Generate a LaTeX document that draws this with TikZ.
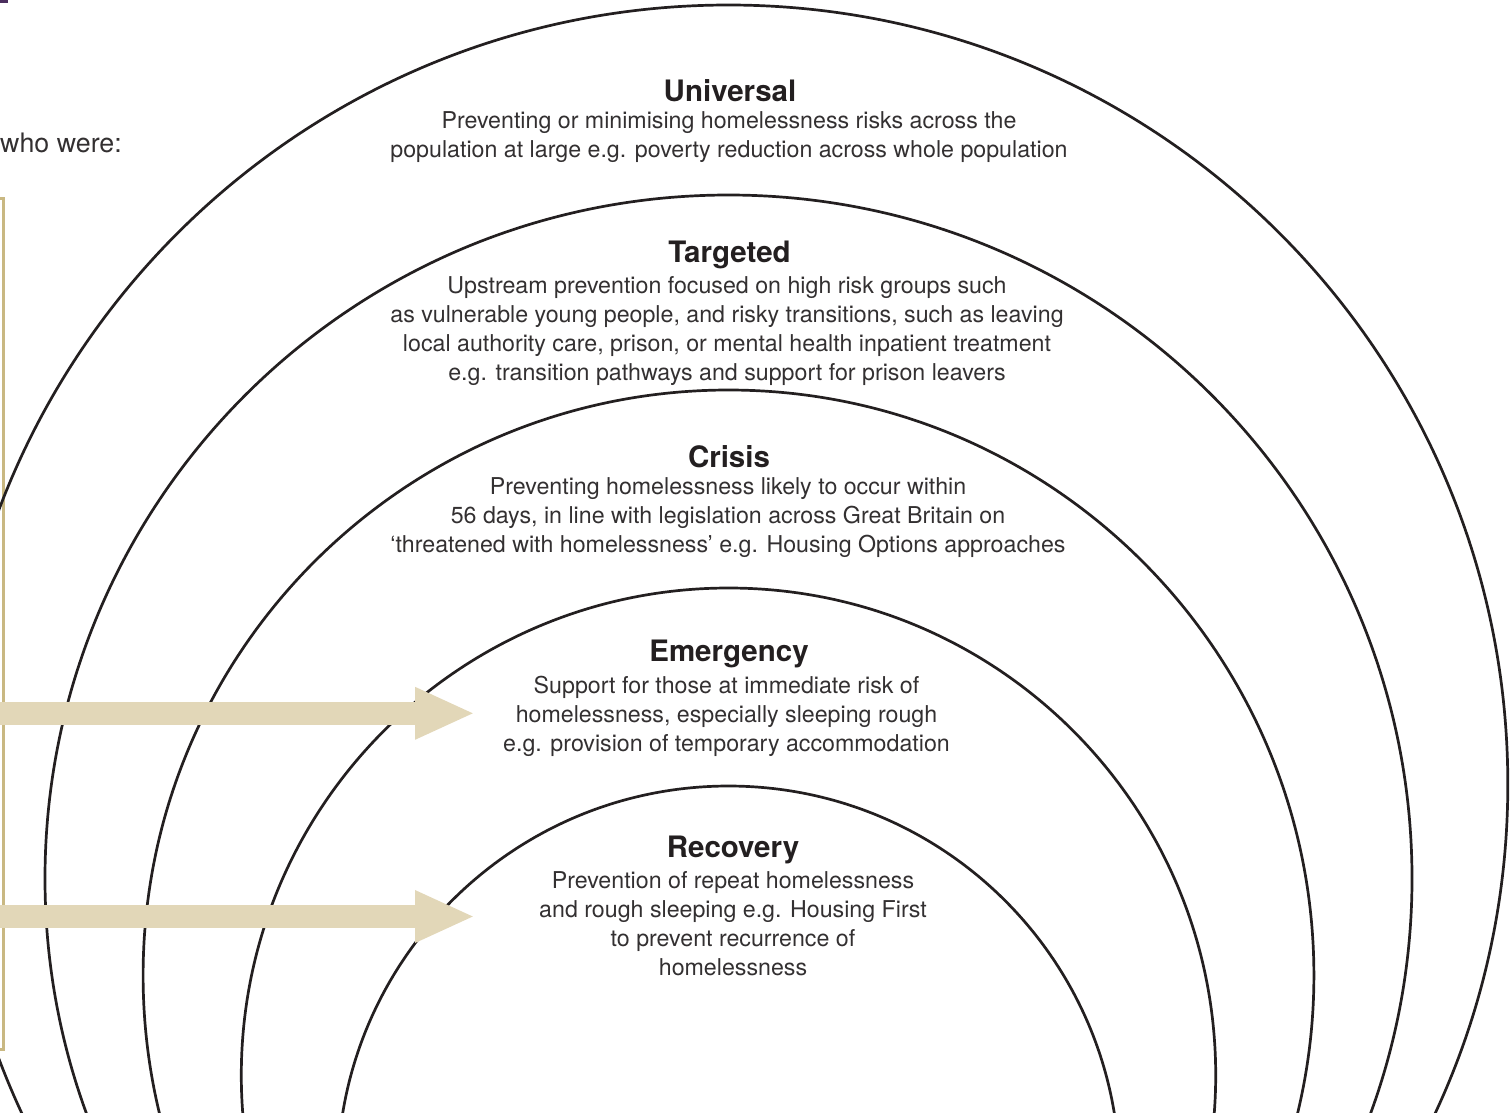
\documentclass[tikz,border=0pt]{standalone}
\usepackage{fontspec}
\setmainfont{TeX Gyre Heros}
\usetikzlibrary{arrows.meta}
\definecolor{ink}{HTML}{231F20}
\definecolor{bodyink}{HTML}{333031}
\definecolor{tanfill}{HTML}{E2D7B8}
\definecolor{boxtan}{HTML}{C9B882}
\definecolor{plum}{HTML}{4B2E5E}
\tikzset{
  ring/.style={draw=ink, line width=2.7pt},
  headtxt/.style={font=\fontsize{29.5}{34}\selectfont\bfseries, text=ink, inner sep=0pt},
  bodytxt/.style={font=\fontsize{23.2}{29}\selectfont, text=bodyink, align=center, inner sep=0pt},
  bigarrow/.style={draw=tanfill, line width=23pt, -{Triangle[length=60pt,width=48pt]}},
  framebox/.style={draw=boxtan, line width=3pt},
}
\begin{document}
\begin{tikzpicture}[x=1pt,y=-1pt]
\useasboundingbox (0,0) rectangle (1511,1112);
\begin{scope}
\clip (0,0) rectangle (1511,1112);
% fragment at top-left corner
\fill[plum] (0,0) rectangle (8,2.5);
% frame on the left
\draw[framebox] (-20,198.3) rectangle (3.3,1049);
% concentric rings
\draw[ring] (728.5,784.3) circle[radius=779.3pt];
\draw[ring] (728.5,878.5) circle[radius=683.5pt];
\draw[ring] (728.5,975.4) circle[radius=585.4pt];
\draw[ring] (728.5,1075.2) circle[radius=487.2pt];
\draw[ring] (728.5,1177) circle[radius=391pt];
% arrows
\coordinate (a1s) at (-5,713.3);
\coordinate (a1e) at (475,713.3);
\coordinate (a2s) at (-5,916.5);
\coordinate (a2e) at (475,916.5);
\draw[bigarrow] (a1s) -- (a1e);
\draw[bigarrow] (a2s) -- (a2e);
\end{scope}
% left text
\node[font=\fontsize{26.8}{30}\selectfont, text=bodyink, anchor=base west, inner sep=0pt] (who) at (0,152) {who were:};
% Universal
\node[headtxt] (uh) at (730,91) {Universal};
\node[bodytxt] (ub) at (729,137.5) {Preventing or minimising homelessness risks across the\\population at large e.g. poverty reduction across whole population};
% Targeted
\node[headtxt] (th) at (729.5,255) {Targeted};
\node[bodytxt] (tb) at (727,331.5) {Upstream prevention focused on high risk groups such\\as vulnerable young people, and risky transitions, such as leaving\\local authority care, prison, or mental health inpatient treatment\\e.g. transition pathways and support for prison leavers};
% Crisis
\node[headtxt] (ch) at (729,457) {Crisis};
\node[bodytxt] (cb) at (728,518) {Preventing homelessness likely to occur within\\56 days, in line with legislation across Great Britain on\\‘threatened with homelessness’ e.g. Housing Options approaches};
% Emergency
\node[headtxt] (eh) at (729,654) {Emergency};
\node[bodytxt] (eb) at (726.5,716.5) {Support for those at immediate risk of\\homelessness, especially sleeping rough\\e.g. provision of temporary accommodation};
% Recovery
\node[headtxt] (rh) at (733,850) {Recovery};
\node[bodytxt] (rb) at (733,924) {Prevention of repeat homelessness\\and rough sleeping e.g. Housing First\\to prevent recurrence of\\homelessness};
\end{tikzpicture}
\end{document}
